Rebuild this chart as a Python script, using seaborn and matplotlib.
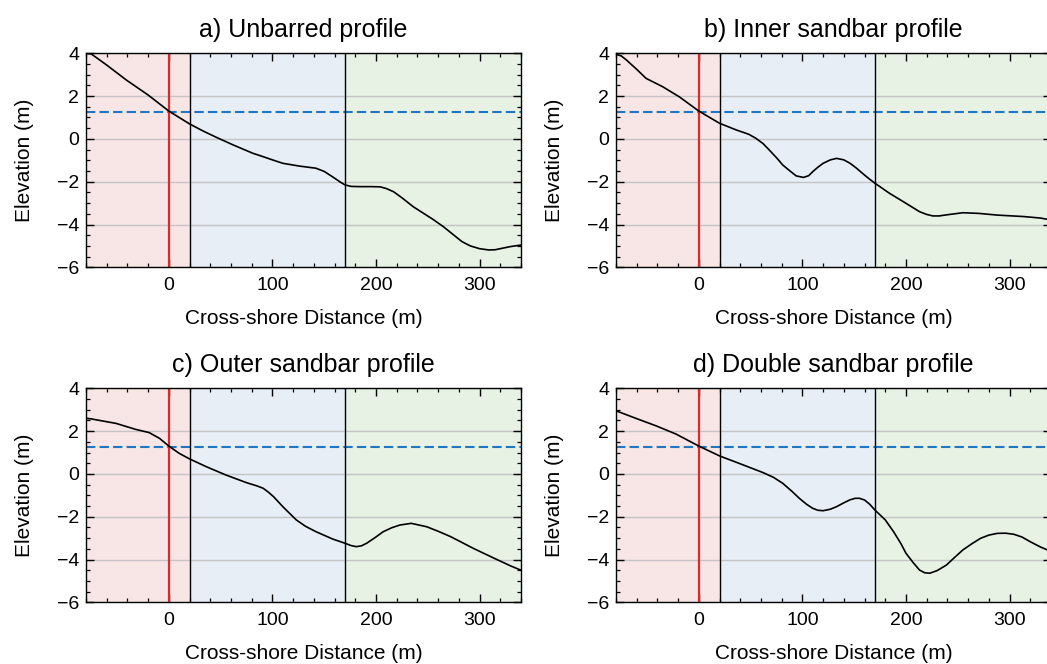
import matplotlib
matplotlib.use("Agg")
import matplotlib.pyplot as plt
import seaborn as sns
import pandas as pd
from matplotlib.ticker import MultipleLocator

# ---- data ----
titles = ["a) Unbarred profile", "b) Inner sandbar profile",
          "c) Outer sandbar profile", "d) Double sandbar profile"]

unbarred_x = [-80, -75, -70, -60, -41, -20, 0, 20, 33, 46, 62, 81, 91, 100, 110, 126,
              142, 150, 158, 165, 170, 176, 185, 195, 204, 210, 217, 225, 236, 245, 255,
              265, 275, 283, 291, 300, 309, 315, 323, 330, 340]
unbarred_y = [4.0, 3.97, 3.8, 3.45, 2.75, 2.05, 1.3, 0.70, 0.37, 0.07, -0.28, -0.67,
              -0.83, -0.98, -1.14, -1.27, -1.37, -1.52, -1.77, -2.0, -2.15, -2.22, -2.23,
              -2.23, -2.24, -2.32, -2.47, -2.75, -3.17, -3.45, -3.76, -4.1, -4.49, -4.8,
              -5.0, -5.13, -5.19, -5.18, -5.1, -5.03, -4.96]

inner_x = [-80, -75, -70, -60, -51, -35, -19, 0, 20, 36, 48, 55, 62, 68, 75, 81, 88,
           94, 101, 106, 110, 115, 120, 127, 133, 140, 146, 152, 158, 164, 170, 184,
           200, 207, 213, 220, 226, 232, 239, 255, 270, 288, 314, 330, 340]
inner_y = [3.95, 3.88, 3.69, 3.25, 2.83, 2.44, 1.97, 1.3, 0.73, 0.42, 0.22, 0.03,
           -0.22, -0.52, -0.88, -1.22, -1.5, -1.73, -1.80, -1.72, -1.53, -1.32, -1.14,
           -0.98, -0.91, -0.98, -1.14, -1.36, -1.61, -1.85, -2.07, -2.54, -3.01, -3.22,
           -3.40, -3.53, -3.60, -3.60, -3.55, -3.45, -3.48, -3.56, -3.63, -3.70, -3.79]

outer_x = [-80, -75, -51, -32, -19, -9, 0, 10, 20, 36, 55, 75, 85, 91, 96, 101, 110,
           123, 132, 142, 158, 170, 176, 181, 186, 191, 199, 207, 215, 223, 234, 249,
           260, 272, 294, 314, 330, 340]
outer_y = [2.60, 2.57, 2.36, 2.08, 1.93, 1.66, 1.3, 0.96, 0.70, 0.34, -0.05, -0.41,
           -0.56, -0.67, -0.85, -1.06, -1.53, -2.15, -2.45, -2.70, -3.04, -3.24, -3.35,
           -3.40, -3.36, -3.24, -2.98, -2.70, -2.52, -2.39, -2.31, -2.47, -2.68, -2.93,
           -3.48, -3.94, -4.30, -4.50]

double_x = [-80, -61, -41, -22, 0, 20, 39, 62, 72, 81, 90, 97, 104, 110, 115, 120,
            127, 133, 140, 146, 151, 155, 160, 165, 170, 180, 188, 195, 200, 207, 213,
            218, 223, 230, 239, 247, 255, 264, 272, 280, 288, 296, 304, 312, 320, 330,
            340]
double_y = [2.95, 2.60, 2.24, 1.86, 1.3, 0.84, 0.49, 0.06, -0.16, -0.44, -0.82, -1.14,
            -1.42, -1.61, -1.70, -1.72, -1.65, -1.53, -1.35, -1.21, -1.14, -1.14, -1.22,
            -1.42, -1.69, -2.15, -2.70, -3.25, -3.71, -4.15, -4.49, -4.62, -4.64, -4.52,
            -4.26, -3.90, -3.55, -3.25, -3.01, -2.86, -2.78, -2.77, -2.82, -2.95, -3.17,
            -3.42, -3.62]

profiles_x = [unbarred_x, inner_x, outer_x, double_x]
profiles_y = [unbarred_y, inner_y, outer_y, double_y]

zone_edges = [-80, 20, 170, 340]
zone_colors = ["#f8e6e6", "#e7eef6", "#e7f2e5"]
shoreline_x = 0
boundary_x = [20, 170]
water_level = 1.27

# ---- style ----
sns.set_style("ticks")
plt.rcParams["font.family"] = ["Liberation Sans", "DejaVu Sans"]
plt.rcParams.update({
    "text.color": "black", "axes.labelcolor": "black",
    "xtick.direction": "in", "ytick.direction": "in",
    "xtick.top": True, "ytick.right": True,
    "xtick.major.size": 6, "ytick.major.size": 6,
    "xtick.minor.size": 3.2, "ytick.minor.size": 3.2,
    "xtick.major.width": 1.0, "ytick.major.width": 1.0,
    "xtick.minor.width": 0.9, "ytick.minor.width": 0.9,
    "xtick.labelsize": 14, "ytick.labelsize": 14,
    "axes.linewidth": 1.0, "axes.edgecolor": "black",
    "xtick.color": "black", "ytick.color": "black",
})

fig = plt.figure(figsize=(10.47, 6.64), dpi=100)
W, H = 1047, 664
lefts = [86, 616, 86, 616]
tops = [53.3, 53.3, 388.3, 388.3]
aw, ah = 435, 214

for i in range(4):
    ax = fig.add_axes([lefts[i] / W, (H - tops[i] - ah) / H, aw / W, ah / H])
    for j in range(3):
        ax.axvspan(zone_edges[j], zone_edges[j + 1], color=zone_colors[j], zorder=0, lw=0)
    ax.set_axisbelow(True)
    ax.yaxis.grid(True, color="#c4c4c4", lw=1.0)
    ax.axhline(water_level, color="#1f77c4", lw=1.5, ls=(0, (4.5, 2)), zorder=2)
    ax.axvline(shoreline_x, color="#e0282a", lw=1.6, zorder=2)
    for bx in boundary_x:
        ax.axvline(bx, color="black", lw=1.0, zorder=2)
    df = pd.DataFrame({"x": profiles_x[i], "y": profiles_y[i]})
    sns.lineplot(data=df, x="x", y="y", ax=ax, color="black", lw=1.2, zorder=3,
                 sort=False, estimator=None)
    ax.set_xlim(-80, 340)
    ax.set_ylim(-6, 4)
    ax.xaxis.set_major_locator(MultipleLocator(100))
    ax.xaxis.set_minor_locator(MultipleLocator(20))
    ax.yaxis.set_major_locator(MultipleLocator(2))
    ax.yaxis.set_minor_locator(MultipleLocator(0.5))
    ax.tick_params(which="both", top=True, right=True)
    ax.tick_params(axis="x", pad=7)
    ax.tick_params(axis="y", pad=5)
    ax.set_xlabel("Cross-shore Distance (m)", fontsize=15, labelpad=11)
    ax.set_ylabel("Elevation (m)", fontsize=15, labelpad=16)
    ax.set_title(titles[i], fontsize=18, pad=12)

fig.savefig("out.png", dpi=100)
